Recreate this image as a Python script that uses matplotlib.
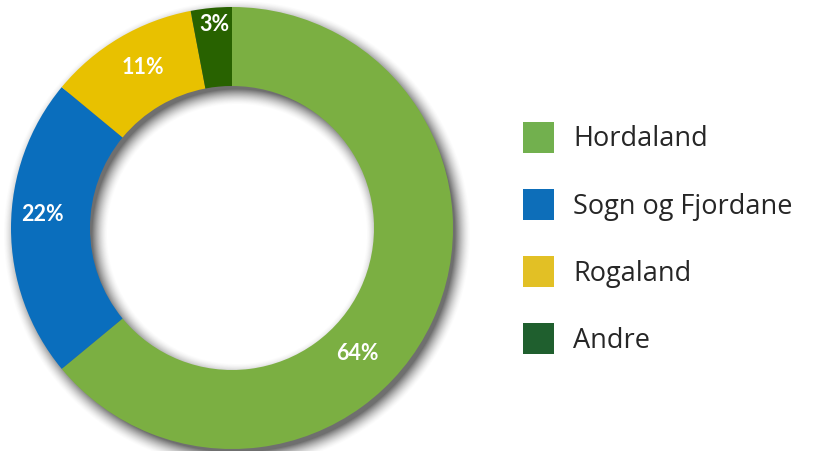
import numpy as np
import matplotlib
matplotlib.use("Agg")
import matplotlib.pyplot as plt
from matplotlib.patches import Rectangle

# data
regions = ["Hordaland", "Sogn og Fjordane", "Rogaland", "Andre"]
shares = [64, 22, 11, 3]
ring_colors = ["#7BAF42", "#0A6EBD", "#E8C100", "#286200"]
legend_colors = ["#72B04E", "#0D6EB9", "#E2C025", "#1F5F2E"]

# label placement (angle in degrees, radius in px) -- layout only
label_pos = [(-45, 178), (176, 190), (119, 183), (95, 204)]

W, H = 814, 451
cx, cy = 232, 228          # pixel coords, origin top-left
r_out, r_in = 221, 142

plt.rcParams["font.family"] = ["Open Sans", "DejaVu Sans"]

fig = plt.figure(figsize=(W / 100, H / 100), dpi=100)
ax = fig.add_axes([0, 0, 1, 1])
ax.set_xlim(0, W)
ax.set_ylim(0, H)
ax.axis("off")

# soft drop shadow, offset right/down
yy, xx = np.mgrid[0:H, 0:W] + 0.5
sx, sy = cx + 5, cy + 6
rr = np.hypot(xx - sx, yy - sy)
dist = np.maximum(rr - r_out, r_in - rr)
alpha = 0.75 * np.clip(1 - (dist + 3) / 16, 0, 1) ** 1.6
shadow = np.zeros((H, W, 4))
shadow[..., :3] = 0.25
shadow[..., 3] = alpha
ax.imshow(shadow, extent=(0, W, 0, H), origin="upper", zorder=1, interpolation="bilinear")

ax.pie(shares, colors=ring_colors, startangle=90, counterclock=False,
       radius=r_out, center=(cx, H - cy),
       wedgeprops=dict(width=r_out - r_in, linewidth=0, zorder=2))
ax.set_xlim(0, W)
ax.set_ylim(0, H)
ax.set_aspect("auto")

for (ang, rad), s in zip(label_pos, shares):
    a = np.deg2rad(ang)
    ax.text(cx + rad * np.cos(a), H - cy + rad * np.sin(a), f"{s}%",
            family=["Lato", "DejaVu Sans"], color="white", fontsize=15.5,
            fontweight="bold", ha="center", va="center", zorder=5)

# legend
for i, (name, col) in enumerate(zip(regions, legend_colors)):
    yc = H - (137 + 67.3 * i)
    ax.add_patch(Rectangle((523, yc - 15.5), 31, 31, facecolor=col,
                           edgecolor="none", zorder=3))
    ax.text(573, yc - 9.5, name, fontsize=19.5, color="#262626",
            ha="left", va="baseline", zorder=3)

fig.savefig("out.png", dpi=100)
